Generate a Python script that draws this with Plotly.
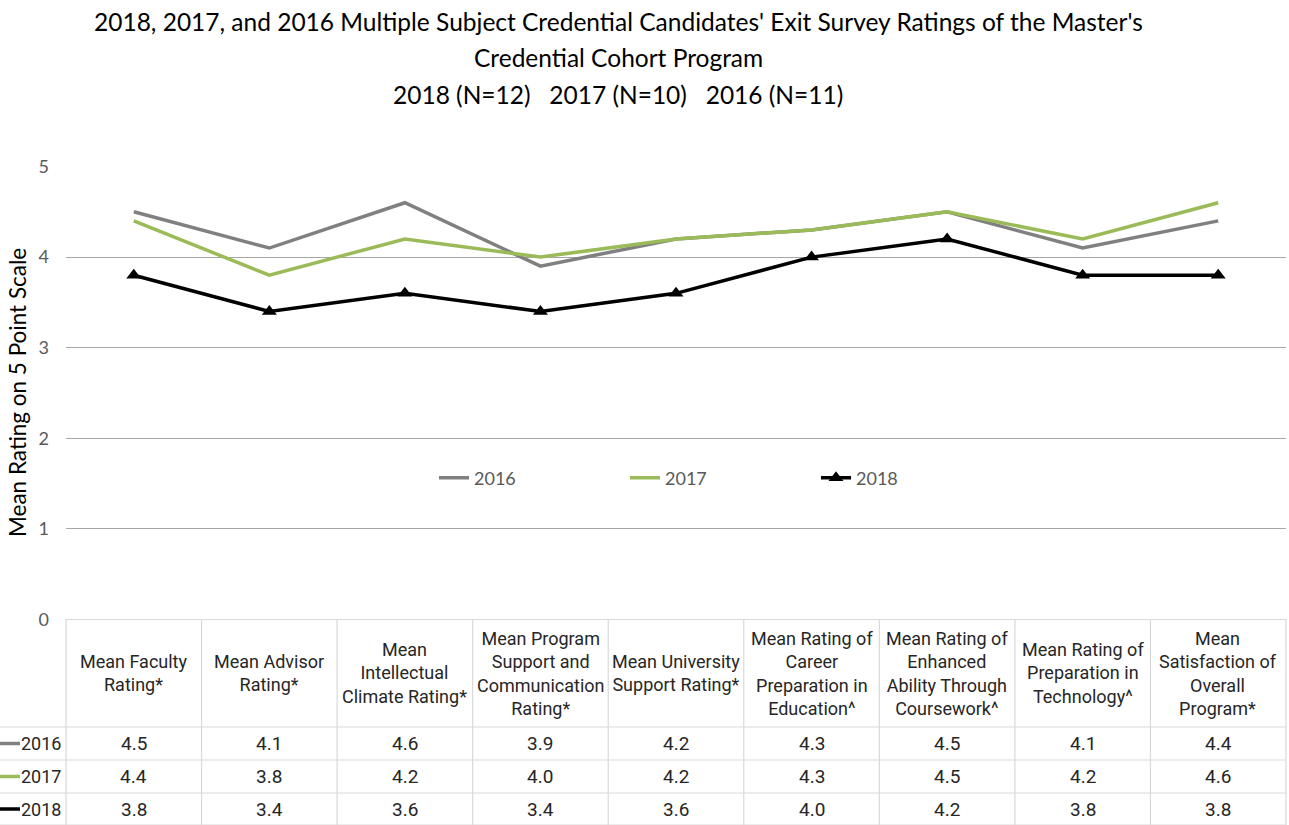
import plotly.graph_objects as go

W, H = 1289, 825

categories = [
    "Mean Faculty<br>Rating*",
    "Mean Advisor<br>Rating*",
    "Mean<br>Intellectual<br>Climate Rating*",
    "Mean Program<br>Support and<br>Communication<br>Rating*",
    "Mean University<br>Support Rating*",
    "Mean Rating of<br>Career<br>Preparation in<br>Education^",
    "Mean Rating of<br>Enhanced<br>Ability Through<br>Coursework^",
    "Mean Rating of<br>Preparation in<br>Technology^",
    "Mean<br>Satisfaction of<br>Overall<br>Program*",
]
series_names = ["2016", "2017", "2018"]
values_2016 = [4.5, 4.1, 4.6, 3.9, 4.2, 4.3, 4.5, 4.1, 4.4]
values_2017 = [4.4, 3.8, 4.2, 4.0, 4.2, 4.3, 4.5, 4.2, 4.6]
values_2018 = [3.8, 3.4, 3.6, 3.4, 3.6, 4.0, 4.2, 3.8, 3.8]
y_ticks = [0, 1, 2, 3, 4, 5]

title_lines = [
    "2018, 2017, and 2016 Multiple Subject Credential Candidates' Exit Survey Ratings of the Master's",
    "Credential Cohort Program",
    "2018 (N=12)\u00a0\u00a0\u00a02017 (N=10)\u00a0\u00a0\u00a02016 (N=11)",
]
y_title = "Mean Rating on 5 Point Scale"

colors = ["#808080", "#9bbb59", "#000000"]
all_values = [values_2016, values_2017, values_2018]

def px(x):
    return x / W

def py(y):
    return 1 - y / H

X0, X1 = 66, 1286
Y0PX, Y5PX = 619.5, 166.5
xs = list(range(len(categories)))

fig = go.Figure()
for name, vals, col in zip(series_names, all_values, colors):
    fig.add_trace(go.Scatter(
        x=xs, y=vals, name=name, mode="lines+markers" if name == "2018" else "lines",
        line=dict(color=col, width=3.5),
        marker=dict(symbol="triangle-up", size=13, color=col) if name == "2018" else None,
    ))

TABLE_FONT = "Roboto, Liberation Sans, sans-serif"
MAIN_FONT = "Lato, Open Sans, sans-serif"
BORDER = "#d9d9d9"
TXT = "#262626"

shapes = []
annotations = []

top, head_bot = 619.5, 727
row_lines = [727, 760, 793, 825]
row_centers = [743.5, 776.5, 809]
col_w = (X1 - X0) / len(categories)

shapes.append(dict(type="line", xref="paper", yref="paper", x0=px(X0), x1=px(X1), y0=py(top), y1=py(top),
                   line=dict(color=BORDER, width=1.2), layer="above"))
for yl in row_lines:
    shapes.append(dict(type="line", xref="paper", yref="paper", x0=0, x1=px(X1), y0=py(yl), y1=py(yl),
                       line=dict(color=BORDER, width=1.2), layer="above"))
for k in range(len(categories) + 1):
    xv = X0 + k * col_w
    shapes.append(dict(type="line", xref="paper", yref="paper", x0=px(xv), x1=px(xv), y0=py(top), y1=py(825),
                       line=dict(color=BORDER, width=1.2), layer="above"))

for i, cat in enumerate(categories):
    annotations.append(dict(x=i, xref="x", y=py((top + head_bot) / 2), yref="paper", text=cat,
                            showarrow=False, xanchor="center", yanchor="middle",
                            font=dict(family=TABLE_FONT, size=18, color=TXT)))
for r, (name, vals, col) in enumerate(zip(series_names, all_values, colors)):
    for i, v in enumerate(vals):
        annotations.append(dict(x=i, xref="x", y=py(row_centers[r]), yref="paper", text=f"{v:.1f}",
                                showarrow=False, xanchor="center", yanchor="middle",
                                font=dict(family=TABLE_FONT, size=19, color=TXT)))
    annotations.append(dict(x=px(63), xref="paper", y=py(row_centers[r]), yref="paper", text=name,
                            showarrow=False, xanchor="right", yanchor="middle",
                            font=dict(family=TABLE_FONT, size=18, color=TXT)))
    shapes.append(dict(type="line", xref="paper", yref="paper", x0=0, x1=px(20), y0=py(row_centers[r]),
                       y1=py(row_centers[r]), line=dict(color=col, width=3.5)))

for t, yc in zip(title_lines, [22, 57, 95]):
    annotations.append(dict(x=px(618), xref="paper", y=py(yc), yref="paper", text=t, showarrow=False,
                            xanchor="center", yanchor="middle",
                            font=dict(family=MAIN_FONT, size=24.5, color="#000000")))

annotations.append(dict(x=px(18), xref="paper", y=py(393), yref="paper", text=y_title, showarrow=False,
                        textangle=-90, xanchor="center", yanchor="middle",
                        font=dict(family=MAIN_FONT, size=22.5, color="#000000")))

fig.update_layout(
    width=W, height=H, autosize=False,
    margin=dict(l=0, r=0, t=0, b=0, pad=0, autoexpand=False),
    paper_bgcolor="white", plot_bgcolor="white",
    showlegend=True,
    legend=dict(orientation="h", x=px(434), y=py(478), xanchor="left", yanchor="middle",
                entrywidth=146, entrywidthmode="pixels",
                font=dict(family=MAIN_FONT, size=18, color="#595959"), bgcolor="rgba(0,0,0,0)"),
    xaxis=dict(domain=[px(X0), px(X1)], range=[-0.5, len(categories) - 0.5], showticklabels=False,
               showgrid=False, zeroline=False, showline=False, ticks="", automargin=False),
    yaxis=dict(domain=[py(Y0PX), py(Y5PX)], range=[0, 5], tickvals=y_ticks, showgrid=True,
               gridcolor="#a6a6a6", gridwidth=1, zeroline=False, showline=False, ticks="",
               ticklabelstandoff=16, automargin=False,
               tickfont=dict(family=MAIN_FONT, size=18, color="#595959")),
    shapes=shapes,
    annotations=annotations,
)

fig.write_html("out.html", config={"responsive": False, "displayModeBar": False},
               post_script="document.body.style.margin='0';document.body.style.overflow='hidden';")
